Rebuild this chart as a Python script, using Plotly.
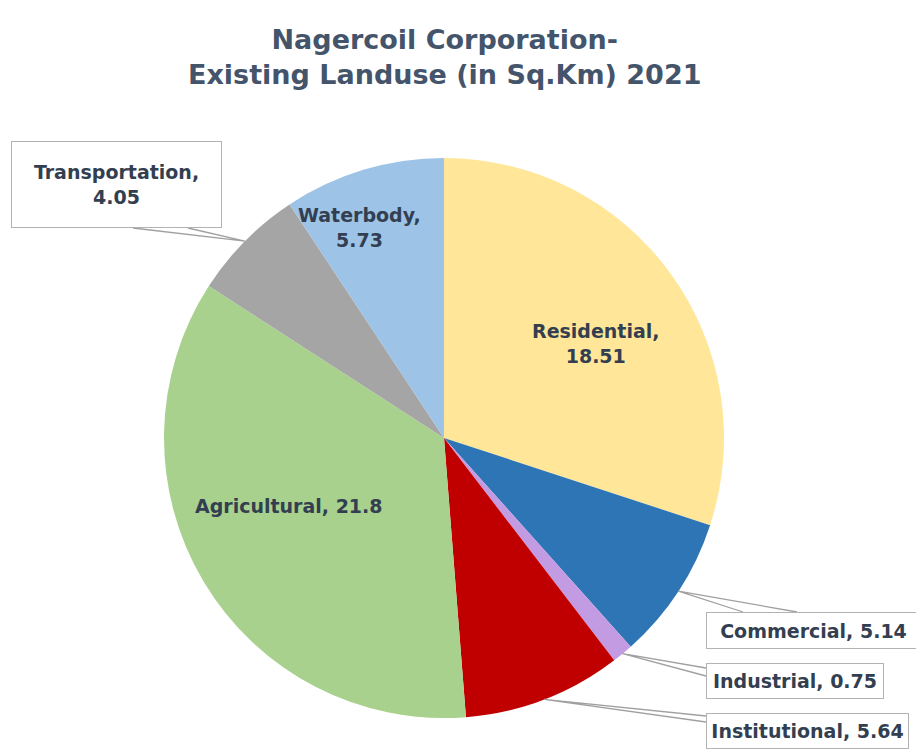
import math
import plotly.graph_objects as go

# ---- data ----
categories = ["Residential", "Commercial", "Industrial", "Institutional",
              "Agricultural", "Transportation", "Waterbody"]
areas = [18.51, 5.14, 0.75, 5.64, 21.8, 4.05, 5.73]
value_labels = ["18.51", "5.14", "0.75", "5.64", "21.8", "4.05", "5.73"]
colors = ["#FFE699", "#2E75B6", "#C39BE3", "#C00000",
          "#A9D18E", "#A5A5A5", "#9DC3E6"]

title_lines = ["Nagercoil Corporation-", "Existing Landuse (in Sq.Km) 2021"]

# ---- layout geometry (pixels in the 924x749 view; page body has 8px margin) ----
OFF = 8
W, H = 924 - OFF, 749 - OFF
CX, CY, R = 444, 438, 280
FONT = "DejaVu Sans"
TXT = "#333F50"
BOX = "#B3B3B3"


def px(x):
    return (x - OFF) / W


def py(y):
    return 1 - (y - OFF) / H


total = sum(areas)
cum = 0
mids = []
for v in areas:
    mids.append((cum + v / 2) / total)
    cum += v


def polar(frac, r):
    a = 2 * math.pi * frac
    return CX + r * math.sin(a), CY - r * math.cos(a)


fig = go.Figure(go.Pie(
    labels=categories,
    values=areas,
    sort=False,
    direction="clockwise",
    rotation=0,
    marker=dict(colors=colors, line=dict(width=0)),
    textinfo="none",
    hoverinfo="label+value",
    domain=dict(x=[px(CX - R), px(CX + R)], y=[py(CY + R), py(CY - R)]),
    showlegend=False,
))

annotations = []
shapes = []

# inside labels: (index, radius fraction, dx, dy, text)
inside = [
    (0, 0.64, 7, 11, f"{categories[0]},<br>{value_labels[0]}"),
    (6, 0.79, -21, 1, f"{categories[6]},<br>{value_labels[6]}"),
    (4, 0.61, -8, -20, f"{categories[4]}, {value_labels[4]}"),
]
for i, rf, dx, dy, t in inside:
    x, y = polar(mids[i], R * rf)
    annotations.append(dict(
        x=px(x + dx), y=py(y + dy), xref="paper", yref="paper",
        text="<b>" + t + "</b>", showarrow=False,
        xanchor="center", yanchor="middle",
        font=dict(family=FONT, size=19, color=TXT), align="center"))

# outside callouts: (index, box left, box top, box w, box h, leader base pts, text)
callouts = [
    (5, 11, 141, 211, 87, [(133, 228), (188, 228)],
     f"{categories[5]},<br>{value_labels[5]}"),
    (1, 706, 612, 215, 37, [(743, 612), (797, 612)],
     f"{categories[1]}, {value_labels[1]}"),
    (2, 706, 663, 178, 36, [(706, 668), (706, 676)],
     f"{categories[2]}, {value_labels[2]}"),
    (3, 706, 713, 203, 36, [(706, 716), (706, 722)],
     f"{categories[3]}, {value_labels[3]}"),
]
for i, bx, by, bw, bh, base, t in callouts:
    ax, ay = polar(mids[i], R)
    (x1, y1), (x2, y2) = base
    path = f"M {px(x1)},{py(y1)} L {px(ax)},{py(ay)} L {px(x2)},{py(y2)}"
    shapes.append(dict(type="path", xref="paper", yref="paper", path=path,
                       line=dict(color="#A0A0A0", width=1.3)))
    annotations.append(dict(
        x=px(bx), y=py(by), xref="paper", yref="paper",
        xanchor="left", yanchor="top", text="<b>" + t + "</b>",
        showarrow=False,
        width=bw - 2, height=bh - 2, borderpad=0, borderwidth=1,
        bordercolor=BOX, bgcolor="white", align="center", valign="middle",
        font=dict(family=FONT, size=19, color=TXT)))

# title
annotations.append(dict(
    x=px(444), y=py(57), xref="paper", yref="paper",
    xanchor="center", yanchor="middle", showarrow=False,
    text="<b>" + "<br>".join(title_lines) + "</b>",
    font=dict(family=FONT, size=27, color="#44546A"), align="center"))

fig.update_layout(
    width=W, height=H,
    margin=dict(l=0, r=0, t=0, b=0),
    paper_bgcolor="white", plot_bgcolor="white",
    annotations=annotations, shapes=shapes,
    font=dict(family=FONT),
)

fig.write_html("out.html")
